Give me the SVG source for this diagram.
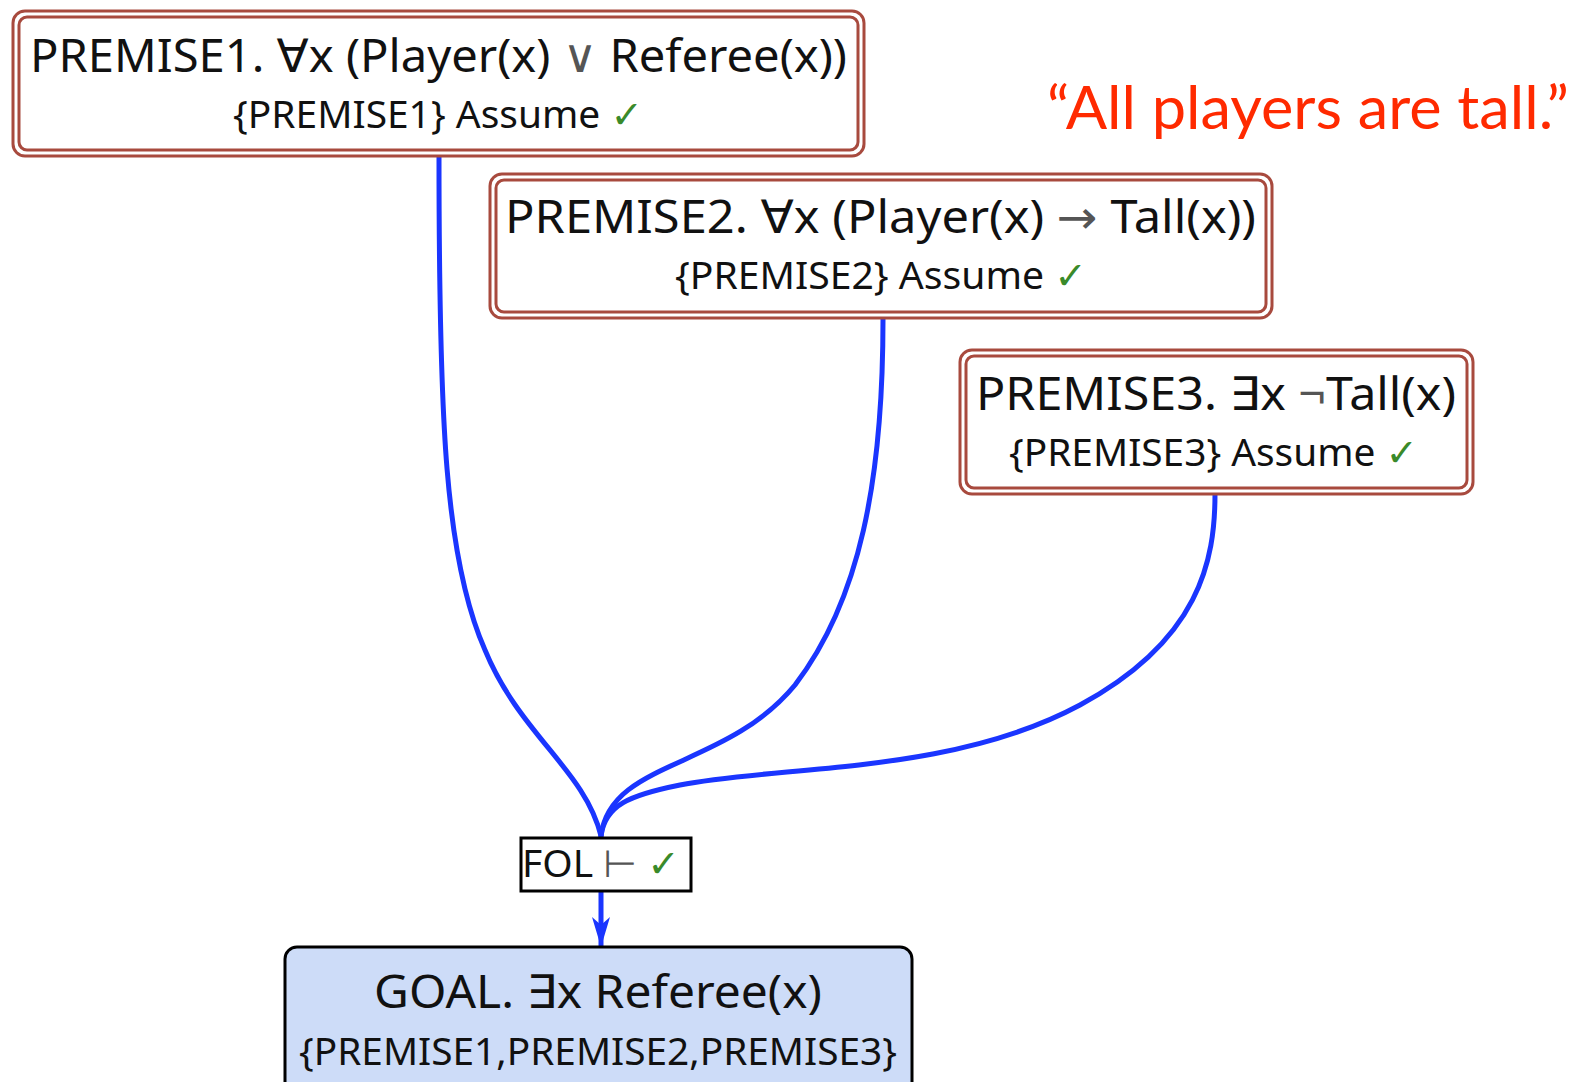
<svg xmlns="http://www.w3.org/2000/svg" width="1575" height="1082" viewBox="0 0 1575 1082">
<defs>
<style>
.bo{fill:#fff;stroke:#a84a3e;stroke-width:3}
.bi{fill:none;stroke:#a84a3e;stroke-width:3}
.t1{font-family:"Noto Sans","DejaVu Sans",sans-serif;font-size:46px;fill:#111}
.t2{font-family:"Noto Sans","DejaVu Sans",sans-serif;font-size:38px;fill:#111}
.ck{fill:#3a8a2a}
.op{fill:#555}
.edge{fill:none;stroke:#1a35ff;stroke-width:5;stroke-linecap:round}
</style>
<marker id="ah" viewBox="0 0 30 20" refX="29" refY="10" markerWidth="30" markerHeight="20" markerUnits="userSpaceOnUse" orient="auto">
<path d="M0,1 L8,10 L0,19 L30,10 Z" fill="#1a35ff"/>
</marker>
</defs>
<rect width="1575" height="1082" fill="#fff"/>
<g id="connectors">
<path class="edge" d="M439,157 C439,420 445,560 485,650 C520,735 585,770 601,836"/>
<path class="edge" d="M883,319 C883,480 860,600 795,685 C725,770 610,760 601,836"/>
<path class="edge" d="M1215,494 C1215,560 1200,640 1080,705 C950,775 780,765 680,785 C630,795 605,805 601,836"/>
<path class="edge" d="M601,891 L601,946" marker-end="url(#ah)"/>
</g>
<g id="premise1">
<rect class="bo" x="13" y="11" width="851" height="145" rx="12"/>
<rect class="bi" x="19" y="17" width="839" height="133" rx="8"/>
<text class="t1" x="30" y="72" textLength="817" lengthAdjust="spacingAndGlyphs">PREMISE1. ∀x (Player(x) <tspan class="op">∨</tspan> Referee(x))</text>
<text class="t2" x="233" y="128" textLength="410" lengthAdjust="spacingAndGlyphs">{PREMISE1} Assume <tspan class="ck">✓</tspan></text>
</g>
<g id="premise2">
<rect class="bo" x="490" y="174" width="782" height="144" rx="12"/>
<rect class="bi" x="496" y="180" width="770" height="132" rx="8"/>
<text class="t1" x="505" y="233" textLength="751" lengthAdjust="spacingAndGlyphs">PREMISE2. ∀x (Player(x) <tspan class="op">→</tspan> Tall(x))</text>
<text class="t2" x="675" y="289" textLength="412" lengthAdjust="spacingAndGlyphs">{PREMISE2} Assume <tspan class="ck">✓</tspan></text>
</g>
<g id="premise3">
<rect class="bo" x="960" y="350" width="513" height="144" rx="12"/>
<rect class="bi" x="966" y="356" width="501" height="132" rx="8"/>
<text class="t1" x="976" y="410" textLength="480" lengthAdjust="spacingAndGlyphs">PREMISE3. ∃x <tspan class="op">¬</tspan>Tall(x)</text>
<text class="t2" x="1009" y="466" textLength="409" lengthAdjust="spacingAndGlyphs">{PREMISE3} Assume <tspan class="ck">✓</tspan></text>
</g>
<g id="fol">
<rect x="521" y="838" width="170" height="53" fill="#fff" stroke="#000" stroke-width="3"/>
<text class="t2" x="522" y="877" textLength="158" lengthAdjust="spacingAndGlyphs">FOL <tspan class="op">⊢</tspan> <tspan class="ck">✓</tspan></text>
</g>
<g id="goal">
<rect x="285" y="947" width="627" height="150" rx="12" fill="#cddcf8" stroke="#000" stroke-width="3"/>
<text class="t1" x="374" y="1008" textLength="448" lengthAdjust="spacingAndGlyphs">GOAL. ∃x Referee(x)</text>
<text class="t2" x="299" y="1065" textLength="598" lengthAdjust="spacingAndGlyphs">{PREMISE1,PREMISE2,PREMISE3}</text>
</g>
<g id="quote">
<text x="1047" y="129" font-family="Lato,'Open Sans',sans-serif" font-size="60" fill="#ff2a00" textLength="522" lengthAdjust="spacingAndGlyphs">“All players are tall.”</text>
</g>
</svg>
